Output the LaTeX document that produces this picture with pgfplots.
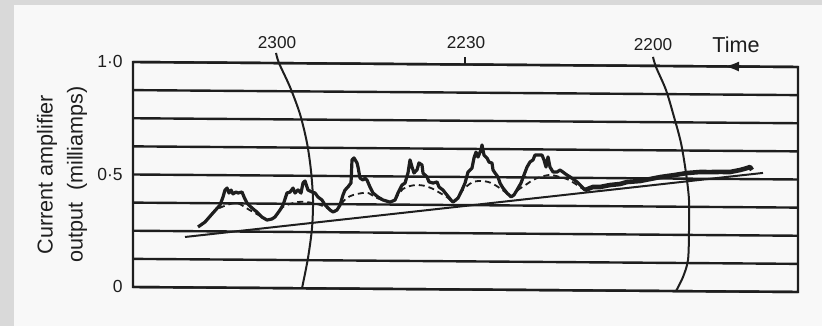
\documentclass[border=0pt]{standalone}
\usepackage{pgfplots}
\pgfplotsset{compat=1.18}
\usetikzlibrary{arrows.meta}
\usepackage{fontspec}
\setmainfont{Liberation Sans}
\definecolor{ink}{HTML}{1E1E1E}
\definecolor{paper}{HTML}{F8F8F8}
\definecolor{bg}{HTML}{D9D9D9}
\begin{document}
\begin{tikzpicture}
\fill[bg] (0,0) rectangle (411pt,163pt);
\fill[paper] (7pt,0) rectangle (411pt,160.5pt);
\path[use as bounding box] (0,0) rectangle (411pt,163pt);
\begin{axis}[
  x={(0.5pt,-0.00376pt)}, y={(0pt,112.5pt)},
  anchor=origin, at={(66.5pt,19.5pt)},
  xmin=0, xmax=665, ymin=0, ymax=1,
  clip=false,
  axis line style={ink, line width=1.2pt},
  xtick=\empty,
  ytick={0,0.125,0.25,0.375,0.5,0.625,0.75,0.875,1},
  yticklabels={0,{},{},{},0·5,{},{},{},1·0},
  major tick length=0pt,
  ymajorgrids,
  grid style={ink, line width=1.2pt},
  yticklabel style={font=\fontsize{8.75}{10}\selectfont, text=ink, inner sep=0pt, xshift=-5pt},
]
% time arcs
\addplot[ink, line width=1pt, smooth] coordinates {
(143,1.045) (146,1.0) (157,0.894) (167,0.774) (174,0.646) (178,0.522) (180,0.393) (179,0.268) (175,0.135) (169,0.0)};
\addplot[ink, line width=1pt, smooth] coordinates {
(520,1.040) (523,0.995) (533,0.893) (541,0.774) (548,0.658) (553,0.525) (556,0.405) (556,0.272) (555,0.139) (550,0.063) (543,0.0)};
\addplot[ink, line width=1pt] coordinates {(332,1.0) (332,1.035)};
% dashed smoothed trace
\addplot[ink, line width=0.9pt, dash pattern=on 3pt off 2pt, smooth] coordinates {
(72,0.291) (77,0.318) (84,0.349) (89,0.359) (97,0.372) (104,0.377) (110,0.364) (115,0.350) (122,0.333) (129,0.315) (134,0.302) (139,0.307) (144,0.329) (150,0.361) (157,0.374) (164,0.383) (172,0.384) (180,0.379) (187,0.371) (194,0.358) (200,0.340) (204,0.349) (208,0.376) (214,0.403) (220,0.416) (229,0.425) (235,0.426) (242,0.408) (249,0.395) (257,0.386) (262,0.395) (265,0.418) (270,0.445) (277,0.458) (284,0.463) (292,0.459) (300,0.446) (307,0.428) (314,0.410) (320,0.388) (325,0.406) (329,0.438) (334,0.460) (340,0.478) (347,0.483) (355,0.479) (360,0.470) (365,0.457) (372,0.435) (378,0.413) (381,0.422) (385,0.444) (394,0.471) (400,0.489) (407,0.502) (417,0.512) (427,0.503) (434,0.494) (441,0.477) (447,0.459) (452,0.446)};
% straight baseline
\addplot[ink, line width=1pt] coordinates {(52,0.224) (630,0.528)};
% recorded trace
\addplot[ink, line width=1.6pt, line join=round] coordinates {
(65,0.269) (72,0.291) (80,0.332) (87,0.367) (90,0.403) (92,0.434) (94,0.443) (96,0.421) (98,0.434) (100,0.417) (103,0.426) (105,0.421) (109,0.426) (111,0.404) (114,0.377) (119,0.355) (124,0.337) (129,0.315) (134,0.302) (139,0.307) (142,0.316) (147,0.347) (150,0.369) (154,0.423) (157,0.427) (160,0.445) (162,0.423) (165,0.437) (168,0.423) (170,0.468) (172,0.477) (174,0.450) (175,0.437) (179,0.428) (182,0.424) (185,0.406) (189,0.393) (192,0.371) (197,0.349) (200,0.340) (204,0.349) (207,0.371) (210,0.416) (212,0.438) (215,0.452) (218,0.470) (219,0.572) (221,0.581) (224,0.559) (225,0.541) (227,0.492) (230,0.483) (232,0.492) (234,0.483) (237,0.452) (240,0.426) (245,0.408) (250,0.395) (257,0.386) (262,0.395) (265,0.427) (269,0.462) (272,0.471) (275,0.516) (277,0.574) (279,0.543) (281,0.516) (284,0.530) (286,0.561) (289,0.552) (290,0.516) (294,0.499) (296,0.477) (300,0.472) (304,0.477) (306,0.455) (310,0.441) (314,0.419) (318,0.397) (320,0.388) (325,0.406) (329,0.442) (332,0.473) (335,0.522) (339,0.540) (341,0.585) (343,0.611) (345,0.589) (348,0.621) (349,0.643) (351,0.598) (354,0.585) (356,0.567) (359,0.563) (360,0.532) (362,0.519) (365,0.501) (367,0.474) (370,0.452) (374,0.430) (378,0.413) (381,0.422) (384,0.444) (388,0.475) (391,0.511) (394,0.546) (397,0.569) (400,0.578) (402,0.600) (405,0.600) (409,0.600) (411,0.578) (413,0.547) (415,0.592) (417,0.547) (420,0.525) (424,0.525) (427,0.534) (430,0.525) (434,0.512) (437,0.504) (444,0.482) (452,0.446) (460,0.460)};
\addplot[ink, line width=2.3pt, line join=round] coordinates {
(452,0.446) (460,0.460) (467,0.460) (477,0.469) (487,0.474) (494,0.483) (507,0.488) (517,0.497) (527,0.506) (542,0.516) (554,0.525) (567,0.530) (577,0.530) (587,0.531) (597,0.531) (607,0.540) (614,0.549) (617,0.554) (619,0.541)};
% arrow and labels
\draw[ink, line width=1.2pt, -{Latex[length=7.5pt,width=5pt]}] (axis cs:608,1) -- (axis cs:591,1);
\node[font=\fontsize{8.6}{10}\selectfont, text=ink] at (axis cs:144,1.089) {2300};
\node[font=\fontsize{8.6}{10}\selectfont, text=ink] at (axis cs:333,1.096) {2230};
\node[font=\fontsize{8.6}{10}\selectfont, text=ink] at (axis cs:520,1.093) {2200};
\node[font=\fontsize{10.8}{12}\selectfont, text=ink] at (axis cs:603,1.096) {Time};
\node[rotate=90, align=center, font=\fontsize{10.8}{15}\selectfont, text=ink] at (axis cs:-71,0.497) {Current amplifier\\output\ \ (milliamps)};
\end{axis}
\end{tikzpicture}
\end{document}
